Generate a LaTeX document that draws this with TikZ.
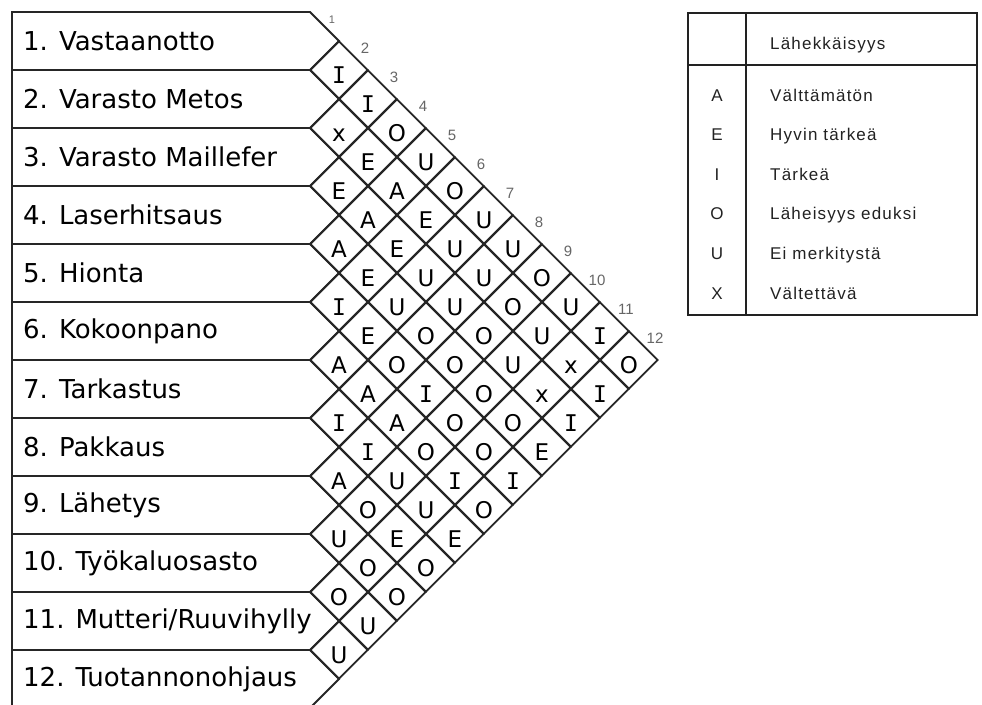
\documentclass[tikz,border=0pt]{standalone}
\usepackage{fontspec}
\setmainfont{DejaVu Sans}
\newfontfamily\relmono{DejaVu Sans Mono}
\newfontfamily\legendfont[LetterSpace=7]{Liberation Sans}
\newfontfamily\numfont{Liberation Sans}
\usetikzlibrary{shapes.geometric}
\definecolor{GridGray}{HTML}{262626}
\definecolor{LegendInk}{HTML}{222222}
\definecolor{NumGray}{HTML}{666666}
% serif I as in the chart, other codes as they are
\newcommand{\relmark}[1]{\if I#1{\relmono I}\else#1\fi}

\begin{document}
\begin{tikzpicture}[
    x=1pt,y=-1pt,
    grid/.style={draw=GridGray,line width=1.8pt,line join=miter},
    cell/.style={grid,shape=diamond,minimum width=58pt,minimum height=58pt,inner sep=0pt,text height=27pt,font=\fontsize{23}{26}\selectfont},
    rowlabel/.style={anchor=west,inner sep=0pt,font=\fontsize{26}{30}\selectfont},
    colnum/.style={font=\numfont\fontsize{15}{18}\selectfont,text=NumGray,inner sep=0pt},
    legtext/.style={font=\legendfont\fontsize{17}{20}\selectfont,text=LegendInk,inner sep=0pt},
    legline/.style={draw=LegendInk,line width=1.6pt}
  ]
  \fill[white] (0,0) rectangle (982,704);
  \useasboundingbox (0,0) rectangle (982,704);

  % department rows
  \foreach \i/\name in {1/Vastaanotto,2/{Varasto Metos},3/{Varasto Maillefer},
      4/Laserhitsaus,5/Hionta,6/Kokoonpano,7/Tarkastus,8/Pakkaus,
      9/Lähetys,10/Työkaluosasto,11/{Mutteri/Ruuvihylly},12/Tuotannonohjaus} {
    \draw[grid] (310,{12+58*(\i-1)}) -- (12,{12+58*(\i-1)}) -- (12,{12+58*\i})
      -- (310,{12+58*\i}) -- (339,{41+58*(\i-1)}) -- cycle;
    \node[rowlabel] (r\i) at (23,{41+58*(\i-1)}) {\i. \name};
  }

  % closeness ratings
  \foreach \i/\rels in {1/{I,I,O,U,O,U,U,O,U,I,O},2/{x,E,A,E,U,U,O,U,x,I},
      3/{E,A,E,U,U,O,U,x,I},4/{A,E,U,O,O,O,O,E},5/{I,E,O,I,O,O,I},
      6/{A,A,A,O,I,O},7/{I,I,U,U,E},8/{A,O,E,O},9/{U,O,O},10/{O,U},11/{U}} {
    \foreach \r [count=\k] in \rels {
      \pgfmathtruncatemacro\j{\i+\k}
      \node[cell] (c\i-\j) at ({310+29*(\j-\i)},{12+29*(\i+\j-1)}) {\relmark{\r}};
    }
  }

  % column numbers
  \node[colnum,font=\numfont\fontsize{11}{13}\selectfont] (n1) at (332,20) {1};
  \foreach \k in {2,...,12}
    \node[colnum] (n\k) at ({365+29*(\k-2)},{48+29*(\k-2)}) {\k};

  % legend
  \draw[legline] (688,13) rectangle (977,315);
  \draw[legline] (746,13) -- (746,315);
  \draw[legline] (688,65) -- (977,65);
  \node[legtext,anchor=base west] (lhead) at (770,49) {Lähekkäisyys};
  \foreach \code/\desc [count=\k from 0] in {A/Välttämätön,E/Hyvin tärkeä,I/Tärkeä,
      O/Läheisyys eduksi,U/Ei merkitystä,X/Vältettävä} {
    \node[legtext,anchor=base] (code\code) at (717,{101+39.6*\k}) {\code};
    \node[legtext,anchor=base west] (desc\code) at (770,{101+39.6*\k}) {\desc};
  }
\end{tikzpicture}
\end{document}
